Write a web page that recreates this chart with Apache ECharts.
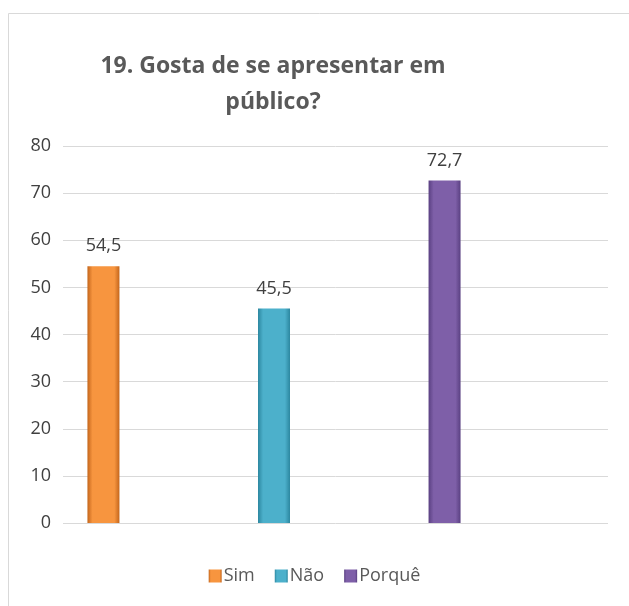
<!DOCTYPE html>
<html>
<head>
<meta charset="utf-8">
<script src="https://cdn.jsdelivr.net/npm/echarts@6/dist/echarts.min.js"></script>
<style>
  html, body { margin: 0; padding: 0; background: #fff; }
  #chart { width: 629px; height: 606px; }
</style>
</head>
<body>
<div id="chart"></div>
<script>
var titleText = '19. Gosta de se apresentar em\npúblico?';
var seriesNames = ['Sim', 'Não', 'Porquê'];
var seriesValues = [54.5, 45.5, 72.7];
var yTicks = { min: 0, max: 80, interval: 10 };

// cores com efeito de bisel (borda escura, centro claro)
var palette = [
    ['#c4661c', '#f7953f', '#c4661c'],
    ['#2c87a0', '#4cb0cb', '#2c87a0'],
    ['#5a4082', '#7e5fa8', '#5a4082']
];

function bevel(c) {
    return new echarts.graphic.LinearGradient(0, 0, 1, 0, [
        { offset: 0, color: c[0] },
        { offset: 0.16, color: c[1] },
        { offset: 0.84, color: c[1] },
        { offset: 1, color: c[2] }
    ]);
}

var chart = echarts.init(document.getElementById('chart'));

var series = seriesNames.map(function (name, i) {
    return {
        name: name,
        type: 'bar',
        xAxisIndex: 1,
        yAxisIndex: 1,
        barWidth: 32,
        barGap: '433%',
        data: [seriesValues[i]],
        itemStyle: { color: bevel(palette[i]) },
        label: {
            show: true,
            position: 'top',
            distance: 11,
            color: '#404040',
            fontSize: 18,
            fontFamily: 'Open Sans',
            formatter: function (p) { return String(p.value).replace('.', ','); }
        }
    };
});

chart.setOption({
    animation: false,
    backgroundColor: '#fff',
    graphic: [{
        type: 'rect',
        shape: { x: 8.5, y: 13.5, width: 800, height: 800 },
        style: { fill: 'none', stroke: '#d9d9d9', lineWidth: 1 },
        z: -1
    }],
    title: {
        text: titleText,
        left: 268,
        top: 43,
        textAlign: 'center',
        textStyle: {
            fontFamily: 'Open Sans',
            fontWeight: 'bold',
            fontSize: 23,
            lineHeight: 36,
            color: '#595959'
        }
    },
    legend: {
        bottom: 16,
        left: 'center',
        itemWidth: 13,
        itemHeight: 13,
        itemGap: 20,
        icon: 'rect',
        textStyle: { fontFamily: 'Open Sans', fontSize: 18, color: '#595959', padding: [0, 0, 0, -3] },
        data: seriesNames
    },
    grid: [
        { left: 63, right: 21, top: 146, bottom: 83 },
        { left: 63, right: 144, top: 146, bottom: 83 }
    ],
    xAxis: [
        { type: 'category', gridIndex: 0, data: [''], show: false },
        { type: 'category', gridIndex: 1, data: [''], show: false }
    ],
    yAxis: [{
        type: 'value',
        gridIndex: 0,
        min: yTicks.min,
        max: yTicks.max,
        interval: yTicks.interval,
        axisLine: { show: false },
        axisTick: { show: false },
        axisLabel: { margin: 12, fontFamily: 'Open Sans', fontSize: 18, color: '#404040' },
        splitLine: { lineStyle: { color: '#d9d9d9', width: 1 } }
    }, {
        type: 'value',
        gridIndex: 1,
        min: yTicks.min,
        max: yTicks.max,
        interval: yTicks.interval,
        show: false,
        splitLine: { show: false }
    }],
    series: series
});
</script>
</body>
</html>
